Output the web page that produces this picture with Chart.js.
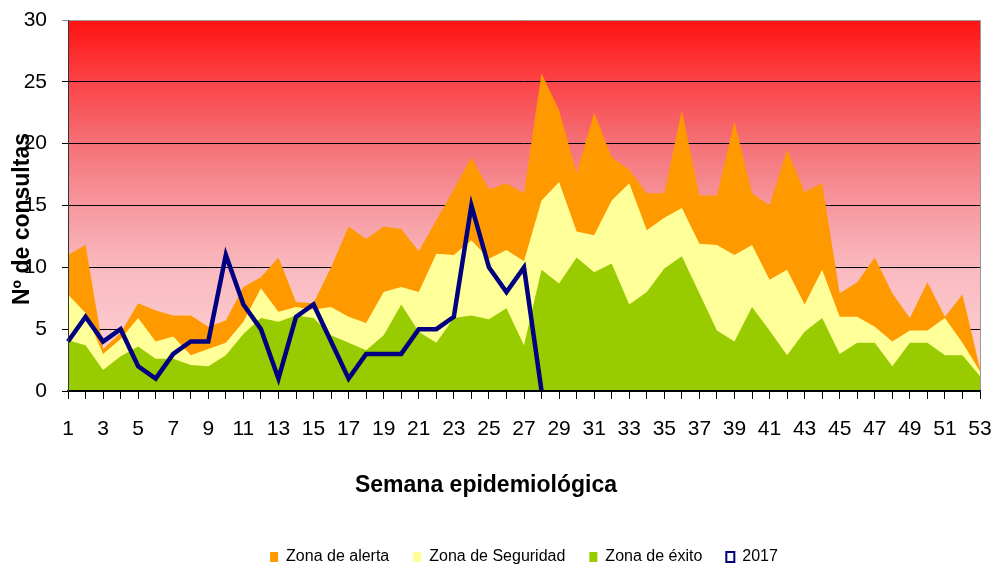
<!DOCTYPE html>
<html>
<head>
<meta charset="utf-8">
<script src="https://cdn.jsdelivr.net/npm/chart.js@4.4.1/dist/chart.umd.min.js"></script>
<style>
  html, body { margin: 0; padding: 0; background: #fff; }
</style>
</head>
<body>
<canvas id="myChart" width="996" height="569"></canvas>
<script>
const semanas = [1, 2, 3, 4, 5, 6, 7, 8, 9, 10, 11, 12, 13, 14, 15, 16, 17, 18, 19, 20,
  21, 22, 23, 24, 25, 26, 27, 28, 29, 30, 31, 32, 33, 34, 35, 36, 37, 38, 39, 40,
  41, 42, 43, 44, 45, 46, 47, 48, 49, 50, 51, 52, 53];

// upper limits of each zone
const zonaAlerta = [11.0, 11.8, 3.4, 4.7, 7.1, 6.5, 6.1, 6.1, 5.2, 5.7, 8.4, 9.2, 10.8, 7.2, 7.1, 10.0, 13.3, 12.3, 13.3, 13.1,
  11.3, 13.8, 16.3, 18.9, 16.3, 16.8, 16.0, 25.7, 22.7, 17.6, 22.5, 18.9, 17.9, 16.0, 16.0, 22.7, 15.8, 15.8, 21.8, 16.0,
  15.0, 19.5, 16.1, 16.8, 7.9, 8.8, 10.8, 7.9, 5.9, 8.8, 6.0, 7.8, 1.8];
const zonaSeguridad = [7.8, 6.3, 3.0, 4.2, 5.9, 4.0, 4.4, 2.9, 3.4, 3.9, 5.6, 8.3, 6.4, 6.8, 6.6, 6.8, 6.0, 5.5, 8.0, 8.4,
  8.0, 11.1, 11.0, 12.2, 10.7, 11.4, 10.5, 15.4, 16.9, 12.9, 12.6, 15.4, 16.8, 13.0, 14.0, 14.8, 11.9, 11.8, 11.0, 11.8,
  9.0, 9.8, 7.0, 9.8, 6.0, 6.0, 5.2, 4.0, 4.9, 4.9, 5.9, 3.9, 1.6];
const zonaExito = [4.1, 3.7, 1.7, 2.8, 3.6, 2.6, 2.6, 2.1, 2.0, 2.9, 4.6, 5.9, 5.6, 6.1, 5.9, 4.5, 3.9, 3.3, 4.5, 7.0,
  4.8, 3.9, 5.9, 6.1, 5.8, 6.7, 3.7, 9.8, 8.7, 10.8, 9.6, 10.3, 7.0, 8.0, 9.9, 10.9, 7.9, 4.9, 4.0, 6.8,
  4.9, 2.9, 4.8, 5.9, 3.0, 3.9, 3.9, 2.0, 3.9, 3.9, 2.9, 2.9, 1.2];
const casos2017 = [4, 6, 4, 5, 2, 1, 3, 4, 4, 11, 7, 5, 1, 6, 7, 4, 1, 3, 3, 3,
  5, 5, 6, 15, 10, 8, 10, 0];

const yTicks = [0, 5, 10, 15, 20, 25, 30];

Chart.defaults.font.family = "'Liberation Sans', Arial, sans-serif";
Chart.defaults.color = '#000';

// red gradient behind the plot
const plotBackground = {
  id: 'plotBackground',
  beforeDraw(chart) {
    const { ctx, chartArea: a } = chart;
    const g = ctx.createLinearGradient(0, a.top, 0, a.bottom);
    g.addColorStop(0, 'rgb(255,18,18)');
    g.addColorStop(0.17, 'rgb(251,68,72)');
    g.addColorStop(0.33, 'rgb(244,112,118)');
    g.addColorStop(0.5, 'rgb(246,152,158)');
    g.addColorStop(0.67, 'rgb(249,186,191)');
    g.addColorStop(1, 'rgb(255,214,218)');
    ctx.save();
    ctx.fillStyle = g;
    ctx.fillRect(a.left, a.top, a.right - a.left, a.bottom - a.top);
    ctx.strokeStyle = '#9a9a9a';
    ctx.lineWidth = 1;
    ctx.beginPath();
    ctx.moveTo(a.right + 0.5, a.top);
    ctx.lineTo(a.right + 0.5, a.bottom);
    ctx.stroke();
    ctx.restore();
  }
};

// axis titles placed where the original has them (y title overlaps the tick labels)
const axisTitles = {
  id: 'axisTitles',
  afterDraw(chart) {
    const ctx = chart.ctx;
    ctx.save();
    ctx.fillStyle = '#000';
    ctx.textAlign = 'center';
    ctx.textBaseline = 'alphabetic';
    ctx.font = "bold 23px 'Liberation Sans', Arial, sans-serif";
    ctx.fillText('Semana epidemiológica', 486, 492);
    ctx.translate(29, 219);
    ctx.rotate(-Math.PI / 2);
    ctx.fillText('Nº de consultas', 0, 0);
    ctx.restore();
  }
};

new Chart(document.getElementById('myChart'), {
  type: 'line',
  data: {
    labels: semanas,
    datasets: [
      {
        label: 'Zona de alerta',
        data: zonaAlerta,
        backgroundColor: '#FF9900',
        borderColor: '#FF9900',
        borderWidth: 0,
        pointRadius: 0,
        fill: 'origin',
        order: 4
      },
      {
        label: 'Zona de Seguridad',
        data: zonaSeguridad,
        backgroundColor: '#FFFF99',
        borderColor: '#FFFF99',
        borderWidth: 0,
        pointRadius: 0,
        fill: 'origin',
        order: 3
      },
      {
        label: 'Zona de éxito',
        data: zonaExito,
        backgroundColor: '#99CC00',
        borderColor: '#99CC00',
        borderWidth: 0,
        pointRadius: 0,
        fill: 'origin',
        order: 2
      },
      {
        label: '2017',
        data: casos2017,
        borderColor: '#000080',
        backgroundColor: '#ffffff',
        borderWidth: 4.5,
        pointRadius: 0,
        fill: false,
        tension: 0,
        order: 1
      }
    ]
  },
  options: {
    responsive: false,
    animation: false,
    layout: { padding: { top: 20, right: 16, bottom: -6, left: 0 } },
    plugins: {
      tooltip: { enabled: false },
      legend: {
        position: 'bottom',
        fullSize: false,
        labels: {
          font: { size: 16 },
          color: '#000',
          boxWidth: 8,
          boxHeight: 10,
          padding: 24,
          sort: (a, b) => a.datasetIndex - b.datasetIndex,
          generateLabels(chart) {
            const items = Chart.defaults.plugins.legend.labels.generateLabels(chart);
            items.forEach(it => {
              if (it.datasetIndex === 3) {
                it.lineWidth = 2;
                it.fillStyle = '#ffffff';
              } else {
                it.lineWidth = 0;
              }
            });
            return items;
          }
        }
      }
    },
    scales: {
      x: {
        offset: false,
        afterFit: (scale) => {
          scale.height = 134;
          scale.paddingLeft = 0;
          scale.paddingRight = 0;
        },
        grid: { drawOnChartArea: false, color: '#000', tickLength: 8 },
        border: { color: '#000', width: 1.5, z: 1 },
        ticks: {
          autoSkip: false,
          maxRotation: 0,
          padding: 18,
          font: { size: 21 },
          callback: function (value, index) {
            return index % 2 === 0 ? this.getLabelForValue(value) : '';
          }
        }
      },
      y: {
        min: 0,
        max: 30,
        afterFit: (scale) => {
          scale.width = 68;
          scale.paddingTop = 0;
          scale.paddingBottom = 0;
        },
        afterBuildTicks: (scale) => { scale.ticks = yTicks.map(v => ({ value: v })); },
        grid: {
          tickLength: 6,
          color: (c) => (c.tick && c.tick.value === 30 ? '#9a9a9a' : '#000')
        },
        border: { color: '#333', width: 1, z: 1 },
        ticks: { padding: 15, font: { size: 21 } }
      }
    }
  },
  plugins: [plotBackground, axisTitles]
});
</script>
</body>
</html>
